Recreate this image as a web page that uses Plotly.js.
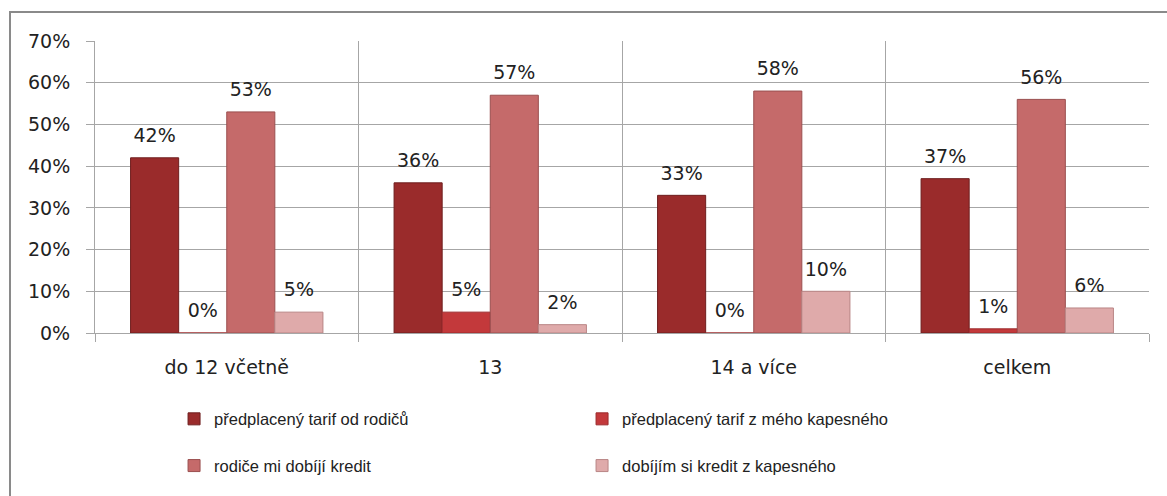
<!DOCTYPE html>
<html>
<head>
<meta charset="utf-8">
<script src="https://cdn.plot.ly/plotly-3.0.1.min.js"></script>
<style>
  html, body { margin: 0; padding: 0; background: #fff; }
  #wrap { position: relative; width: 1167px; height: 496px; overflow: hidden; }
  #chart { width: 1167px; height: 496px; }
  #frame { position: absolute; left: 9px; top: 11px; width: 1300px; height: 600px;
           border-top: 2px solid #8a8a8a; border-left: 2px solid #8a8a8a; pointer-events: none; }
</style>
</head>
<body>
<div id="wrap">
  <div id="chart"></div>
  <div id="frame"></div>
</div>
<script>
const categories = ["do 12 včetně", "13", "14 a více", "celkem"];
const seriesNames = [
  "předplacený tarif od rodičů",
  "předplacený tarif z mého kapesného",
  "rodiče mi dobíjí kredit",
  "dobíjím si kredit z kapesného"
];
const tarifOdRodicu   = [42, 36, 33, 37];
const tarifZKapesneho = [0, 5, 0, 1];
const rodiceDobiji    = [53, 57, 58, 56];
const dobijimSi       = [5, 2, 10, 6];
const yTickValues = [0, 10, 20, 30, 40, 50, 60, 70];
const yTickLabels = ["0%", "10%", "20%", "30%", "40%", "50%", "60%", "70%"];

const colors = ["#9a2b2b", "#c3393b", "#c56a6a", "#dfaaaa"];
const lineColors = ["#6e1e1e", "#9c2a2c", "#9a4f4f", "#b98585"];
const allSeries = [tarifOdRodicu, tarifZKapesneho, rodiceDobiji, dobijimSi];
const legendIds = ["legend", "legend", "legend2", "legend2"];

const labelFont = { family: "DejaVu Sans", size: 19, color: "#222" };

const barTraces = allSeries.map((vals, i) => ({
  type: "bar",
  name: seriesNames[i],
  x: categories,
  y: vals,
  legend: legendIds[i],
  offsetgroup: "g" + i,
  marker: { color: colors[i], line: { color: lineColors[i], width: 1 } },
  hoverinfo: "skip"
}));

const labelTraces = allSeries.map((vals, i) => ({
  type: "scatter",
  mode: "markers+text",
  x: categories,
  y: vals,
  offsetgroup: "g" + i,
  text: vals.map(v => v + "%"),
  textposition: "top center",
  textfont: labelFont,
  marker: { size: 16, opacity: 0, color: colors[i] },
  showlegend: false,
  cliponaxis: false,
  hoverinfo: "skip"
}));

const legendCommon = {
  orientation: "h",
  xanchor: "left",
  yanchor: "top",
  entrywidth: 363,
  entrywidthmode: "pixels",
  itemwidth: 30,
  font: { family: "Liberation Sans", size: 16.5, color: "#222" },
  bgcolor: "rgba(0,0,0,0)",
  traceorder: "normal"
};

const layout = {
  width: 1167,
  height: 496,
  margin: { l: 95, r: 18, t: 41, b: 161 },
  paper_bgcolor: "#fff",
  plot_bgcolor: "#fff",
  barmode: "group",
  bargap: 0.27,
  bargroupgap: 0,
  scattermode: "group",
  scattergap: 0.27,
  showlegend: true,
  legend: Object.assign({}, legendCommon, { x: 0.075, y: -0.235 }),
  legend2: Object.assign({}, legendCommon, { x: 0.075, y: -0.395 }),
  xaxis: {
    type: "category",
    tickson: "boundaries",
    showgrid: true,
    gridcolor: "#a6a6a6",
    gridwidth: 1,
    ticks: "outside",
    ticklen: 8,
    tickcolor: "#a6a6a6",
    showline: true,
    linecolor: "#a6a6a6",
    ticklabelstandoff: 17,
    tickfont: { family: "DejaVu Sans", size: 19, color: "#222" },
    fixedrange: true
  },
  yaxis: {
    range: [0, 70],
    tickvals: yTickValues,
    ticktext: yTickLabels,
    showgrid: true,
    gridcolor: "#a6a6a6",
    gridwidth: 1,
    zeroline: false,
    showline: true,
    linecolor: "#a6a6a6",
    ticks: "outside",
    ticklen: 8,
    tickcolor: "#a6a6a6",
    ticklabelstandoff: 12,
    tickfont: { family: "DejaVu Sans", size: 19, color: "#222" },
    fixedrange: true
  },
  font: { family: "DejaVu Sans" }
};

Plotly.newPlot("chart", barTraces.concat(labelTraces), layout, { displayModeBar: false, staticPlot: true });
</script>
</body>
</html>
